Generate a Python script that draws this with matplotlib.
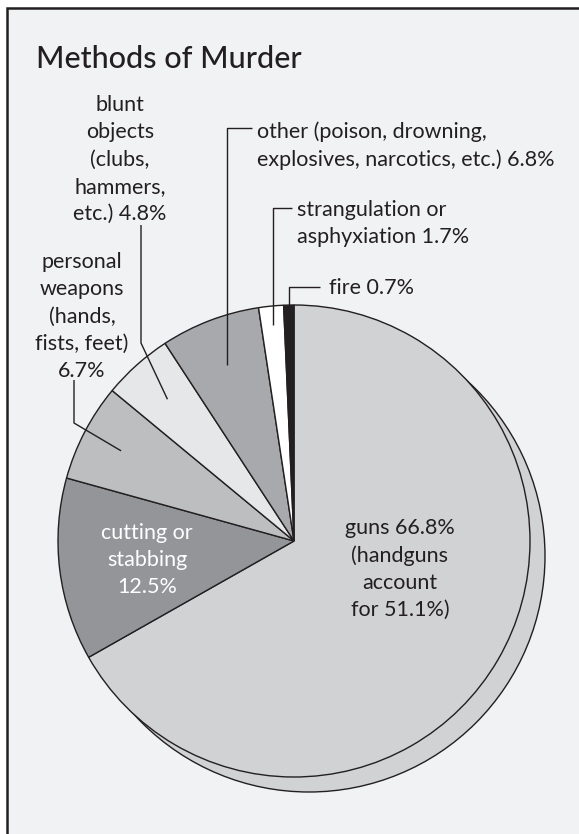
import numpy as np
import matplotlib.pyplot as plt
from matplotlib.patches import Circle, Rectangle

W, H = 579, 834
INK = "#231f20"
PAPER = "#f1f2f4"

# slices, clockwise from 12 o'clock
methods = ["guns", "cutting or stabbing", "personal weapons", "blunt objects",
           "other", "strangulation or asphyxiation", "fire"]
shares = [66.8, 12.5, 6.7, 4.8, 6.8, 1.7, 0.7]
colors = ["#d1d2d4", "#939598", "#bcbec0", "#e6e7e8", "#a7a9ac", "#ffffff", INK]

plt.rcParams["font.family"] = ["Lato", "DejaVu Sans"]

fig = plt.figure(figsize=(W / 100, H / 100), dpi=100)
fig.patch.set_facecolor("white")
ax = fig.add_axes([0, 0, 1, 1])


def Y(y):
    # work in screen pixels, y measured from the top
    return H - y


cx, cy, r = 294, 541, 236
shadow = 15

wedges, _ = ax.pie(shares, colors=colors, startangle=90, counterclock=False,
                   center=(cx, Y(cy)), radius=r, frame=True,
                   wedgeprops=dict(edgecolor=INK, linewidth=1.0, zorder=2))
ax.set_xlim(0, W)
ax.set_ylim(0, H)
ax.set_aspect("equal")
ax.axis("off")

# panel with its frame (only top and left edges fall inside the figure)
ax.add_patch(Rectangle((7, Y(900)), 700, 892, facecolor=PAPER, edgecolor=INK,
                       linewidth=1.8, zorder=0))
ax.add_patch(Circle((cx + shadow, Y(cy + shadow)), r, facecolor=colors[0],
                    edgecolor=INK, linewidth=1.0, zorder=1))


def inside(i, rad):
    w = wedges[i]
    a = np.deg2rad((w.theta1 + w.theta2) / 2)
    return cx + rad * np.cos(a), Y(cy) + rad * np.sin(a)


fs = 15.5
ls = 1.45
txt = dict(fontsize=fs, color=INK, linespacing=ls, zorder=5)
lw = dict(color=INK, linewidth=1.0, zorder=4, solid_capstyle="butt")

ax.text(36, Y(68), "Methods of Murder", fontsize=22, fontweight="medium",
        color=INK, ha="left", va="baseline", zorder=5)

# blunt objects
ax.text(120, Y(95), "blunt\nobjects\n(clubs,\nhammers,\netc.) 4.8%",
        ha="center", va="top", **txt)
px, py = inside(3, 190)
ax.plot([141, 141, px], [Y(225), Y(343), py], **lw)

# personal weapons
ax.text(82, Y(252), "personal\nweapons\n(hands,\nfists, feet)\n6.7%",
        ha="center", va="top", **txt)
px, py = inside(2, 195)
ax.plot([74, 74, px], [Y(380), Y(423), py], **lw)

# other
ax.text(257, Y(121), "other (poison, drowning,\nexplosives, narcotics, etc.) 6.8%",
        ha="left", va="top", **txt)
px, py = inside(4, 188)
ax.plot([252, px, px], [Y(128), Y(128), py], **lw)

# strangulation
ax.text(297, Y(200), "strangulation or\nasphyxiation 1.7%",
        ha="left", va="top", **txt)
px, py = inside(5, 217)
ax.plot([292, px, px], [Y(208), Y(208), py], **lw)

# fire
ax.text(329, Y(278), "fire 0.7%", ha="left", va="top", **txt)
px, py = inside(6, 232)
ax.plot([320, px, px], [Y(287), Y(287), py], **lw)

# labels inside the pie
ax.text(147, Y(560), "cutting or\nstabbing\n12.5%", ha="center", va="center",
        fontsize=fs, color="white", linespacing=ls, zorder=5)
ax.text(400, Y(569), "guns 66.8%\n(handguns\naccount\nfor 51.1%)",
        ha="center", va="center", **txt)

fig.savefig("out.png", dpi=100, facecolor=fig.get_facecolor())
